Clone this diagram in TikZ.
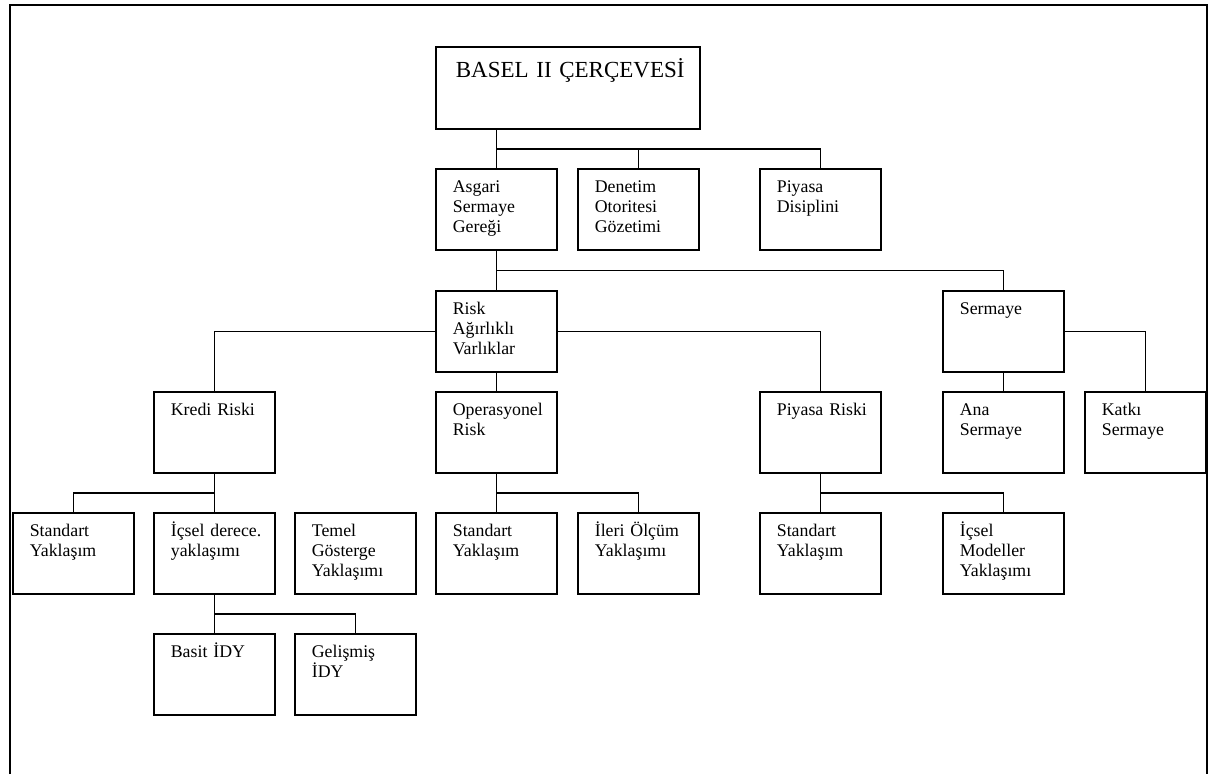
\documentclass[tikz,border=0pt]{standalone}
\usepackage{fontspec}
\setmainfont{Liberation Serif}
\usepackage{tikz}
\usetikzlibrary{calc,positioning}
\tikzset{
  hat/.style={draw=black, line width=1.7pt},
  kutu/.style={hat, anchor=north west, text width=87pt, align=left,
    inner xsep=17pt, inner ysep=8pt, text height=16pt, text depth=49pt,
    font=\fontsize{17.8}{20}\selectfont},
  ana/.style={kutu, text width=224pt, inner xsep=20pt, text height=23pt,
    text depth=43pt, font=\fontsize{23}{26}\selectfont},
}
\begin{document}
\begin{tikzpicture}[x=1pt,y=-1pt]
\useasboundingbox (0,0) rectangle (1215,774);
% outer frame, open at the bottom
\draw[hat] (10,774) -- (10,5) -- (1207,5) -- (1207,774);

\node[ana] (basel) at (435,46) {BASEL~II~ÇERÇEVESİ};

\node[kutu] (asgari) at (435,168) {Asgari\\Sermaye\\Gereği};
\node[kutu] (denetim) at (577,168) {Denetim\\Otoritesi\\Gözetimi};
\node[kutu] (disiplin) at (759,168) {Piyasa\\Disiplini};

\node[kutu] (rav) at (435,290) {Risk\\Ağırlıklı\\Varlıklar};
\node[kutu] (sermaye) at (942,290) {Sermaye};

\node[kutu] (kredi) at (153,391) {Kredi~Riski};
\node[kutu] (opr) at (435,391) {Operasyonel\\Risk};
\node[kutu] (piyasa) at (759,391) {Piyasa~Riski};
\node[kutu] (anaserm) at (942,391) {Ana\\Sermaye};
\node[kutu] (katki) at (1084,391) {Katkı\\Sermaye};

\node[kutu] (kstd) at (12,512) {Standart\\Yaklaşım};
\node[kutu] (icsel) at (153,512) {İçsel~derece.\\yaklaşımı};
\node[kutu] (temel) at (294,512) {Temel\\Gösterge\\Yaklaşımı};
\node[kutu] (ostd) at (435,512) {Standart\\Yaklaşım};
\node[kutu] (ileri) at (577,512) {İleri~Ölçüm\\Yaklaşımı};
\node[kutu] (pstd) at (759,512) {Standart\\Yaklaşım};
\node[kutu] (imodel) at (942,512) {İçsel\\Modeller\\Yaklaşımı};

\node[kutu] (basit) at (153,633) {Basit~İDY};
\node[kutu] (gelismis) at (294,633) {Gelişmiş\\İDY};

% bus lines
\coordinate (bus1) at ($(basel.south)!.5!(asgari.north)$);
\coordinate (bus2) at ($(asgari.south)!.5!(rav.north)$);
\coordinate (bus3) at ($(kredi.south)!.5!(icsel.north)$);
\coordinate (bus4) at ($(icsel.south)!.5!(basit.north)$);

\draw[hat] (asgari.north |- basel.south) -- (asgari.north);
\draw[hat] (bus1 -| asgari.north) -| (disiplin.north);
\draw[hat] (denetim.north) -- (denetim.north |- bus1);

\draw[hat] (asgari.south) -- (rav.north);
\draw[hat] (bus2 -| asgari.south) -| (sermaye.north);

\draw[hat] (rav.west) -| (kredi.north);
\draw[hat] (rav.east) -| (piyasa.north);
\draw[hat] (rav.south) -- (opr.north);

\draw[hat] (sermaye.south) -- (anaserm.north);
\draw[hat] (sermaye.east) -| (katki.north);

\draw[hat] (kredi.south) -- (icsel.north);
\draw[hat] (bus3 -| kredi.south) -| (kstd.north);
\draw[hat] (opr.south) -- (ostd.north);
\draw[hat] (bus3 -| opr.south) -| (ileri.north);
\draw[hat] (piyasa.south) -- (pstd.north);
\draw[hat] (bus3 -| piyasa.south) -| (imodel.north);

\draw[hat] (icsel.south) -- (basit.north);
\draw[hat] (bus4 -| icsel.south) -| (gelismis.north);
\end{tikzpicture}
\end{document}
